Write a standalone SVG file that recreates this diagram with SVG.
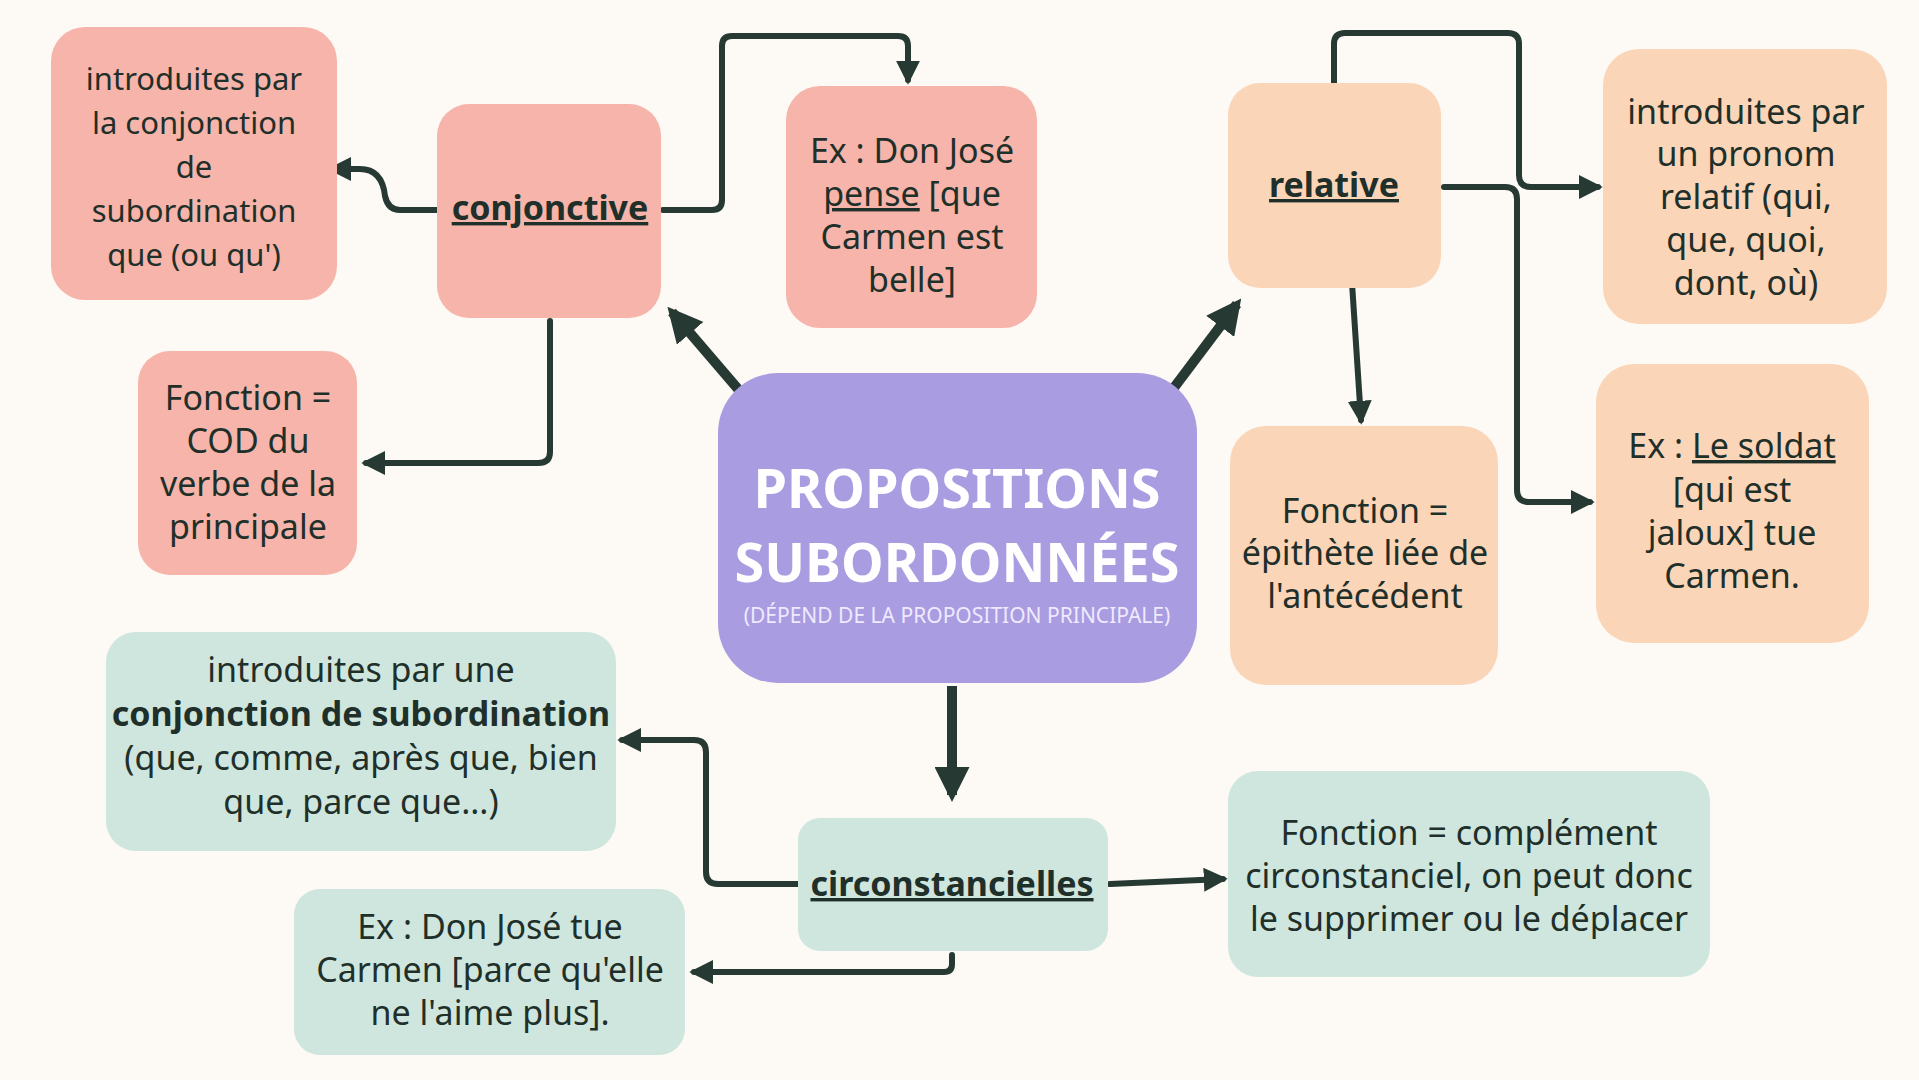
<svg xmlns="http://www.w3.org/2000/svg" width="1919" height="1080" viewBox="0 0 1919 1080">
<style>
.t{font-family:"Noto Sans","DejaVu Sans",sans-serif;font-size:34px;fill:#1f2f29;text-anchor:middle}
.s{font-size:31px}
.b{font-weight:bold}
.u{text-decoration:underline}
.c{fill:none;stroke:#263a33;stroke-width:6;stroke-linecap:round;stroke-linejoin:round}
.k{fill:none;stroke:#263a33;stroke-width:10}
.pk{fill:#f6b4aa}.pe{fill:#fbd5b8}.mi{fill:#cfe6de}
</style>
<defs>
<marker id="a" viewBox="0 0 10 10" refX="8" refY="5" markerWidth="4" markerHeight="4" orient="auto"><path d="M0,0 L10,5 L0,10 z" fill="#263a33"/></marker>
<marker id="A" viewBox="0 0 10 10" refX="8" refY="5" markerWidth="3.5" markerHeight="3.5" orient="auto"><path d="M0,0 L10,5 L0,10 z" fill="#263a33"/></marker>
</defs>
<rect width="1919" height="1080" fill="#fdf9f5"/>
<g id="connectors">
<path class="c" marker-end="url(#a)" d="M437,210 H400 Q388,210 385,196 Q382,169 360,169 H332"/>
<path class="c" marker-end="url(#a)" d="M663,210 H712 Q722,210 722,200 V46 Q722,36 732,36 H898 Q908,36 908,46 V80"/>
<path class="c" marker-end="url(#a)" d="M550,321 V452 Q550,463 538,463 H366"/>
<path class="k" marker-end="url(#A)" d="M738,389 L672,312"/>
<path class="k" marker-end="url(#A)" d="M1173,389 L1237,304"/>
<path class="k" marker-end="url(#A)" d="M952,686 V795"/>
<path class="c" marker-end="url(#a)" d="M1334,83 V44 Q1334,33 1345,33 H1508 Q1519,33 1519,44 V175 Q1519,187 1531,187 H1598"/>
<path class="c" marker-end="url(#a)" d="M1444,187 H1505 Q1517,187 1517,199 V490 Q1517,502 1529,502 H1590"/>
<path class="c" marker-end="url(#a)" d="M1352,283 L1361,420"/>
<path class="c" marker-end="url(#a)" d="M798,884 H718 Q706,884 706,872 V752 Q706,740 694,740 H622"/>
<path class="c" marker-end="url(#a)" d="M952,955 V964 Q952,972 944,972 H694"/>
<path class="c" marker-end="url(#a)" d="M1110,884 L1223,879"/>
</g>
<g id="intro-conj"><rect class="pk" x="51" y="27" width="286" height="273" rx="34"/>
<text class="t s"><tspan x="194" y="90">introduites par</tspan><tspan x="194" y="134">la conjonction</tspan><tspan x="194" y="178">de</tspan><tspan x="194" y="222">subordination</tspan><tspan x="194" y="266">que (ou qu')</tspan></text></g>
<g id="conjonctive"><rect class="pk" x="437" y="104" width="224" height="214" rx="32"/>
<text class="t b" x="550" y="220"><tspan class="u">conjonctive</tspan></text></g>
<g id="ex-conj"><rect class="pk" x="786" y="86" width="251" height="242" rx="34"/>
<text class="t"><tspan x="912" y="163">Ex : Don José</tspan><tspan x="912" y="206"><tspan class="u">pense</tspan> [que</tspan><tspan x="912" y="249">Carmen est</tspan><tspan x="912" y="292">belle]</tspan></text></g>
<g id="fonction-cod"><rect class="pk" x="138" y="351" width="219" height="224" rx="32"/>
<text class="t"><tspan x="248" y="410">Fonction =</tspan><tspan x="248" y="453">COD du</tspan><tspan x="248" y="496">verbe de la</tspan><tspan x="248" y="539">principale</tspan></text></g>
<g id="central"><rect x="718" y="373" width="479" height="310" rx="60" fill="#a99ce0"/>
<text class="t b" x="957" y="508" style="font-size:54px;fill:#fff">PROPOSITIONS</text>
<text class="t b" x="957" y="582" style="font-size:54px;fill:#fff">SUBORDONNÉES</text>
<text class="t" x="957" y="623" style="font-size:21px;fill:#eeeaff">(DÉPEND DE LA PROPOSITION PRINCIPALE)</text></g>
<g id="relative"><rect class="pe" x="1228" y="83" width="213" height="205" rx="32"/>
<text class="t b" x="1334" y="197"><tspan class="u">relative</tspan></text></g>
<g id="intro-rel"><rect class="pe" x="1603" y="49" width="284" height="275" rx="36"/>
<text class="t"><tspan x="1746" y="124">introduites par</tspan><tspan x="1746" y="166">un pronom</tspan><tspan x="1746" y="209">relatif (qui,</tspan><tspan x="1746" y="252">que, quoi,</tspan><tspan x="1746" y="295">dont, où)</tspan></text></g>
<g id="epithete"><rect class="pe" x="1230" y="426" width="268" height="259" rx="36"/>
<text class="t"><tspan x="1365" y="523">Fonction =</tspan><tspan x="1365" y="565">épithète liée de</tspan><tspan x="1365" y="608">l'antécédent</tspan></text></g>
<g id="ex-rel"><rect class="pe" x="1596" y="364" width="273" height="279" rx="38"/>
<text class="t"><tspan x="1732" y="458">Ex : <tspan class="u">Le soldat</tspan></tspan><tspan x="1732" y="502">[qui est</tspan><tspan x="1732" y="545">jaloux] tue</tspan><tspan x="1732" y="588">Carmen.</tspan></text></g>
<g id="intro-circ"><rect class="mi" x="106" y="632" width="510" height="219" rx="30"/>
<text class="t"><tspan x="361" y="682">introduites par une</tspan><tspan x="361" y="726" class="b">conjonction de subordination</tspan><tspan x="361" y="770">(que, comme, après que, bien</tspan><tspan x="361" y="814">que, parce que...)</tspan></text></g>
<g id="circonstancielles"><rect class="mi" x="798" y="818" width="310" height="133" rx="22"/>
<text class="t b" x="952" y="896"><tspan class="u">circonstancielles</tspan></text></g>
<g id="fonction-cc"><rect class="mi" x="1228" y="771" width="482" height="206" rx="30"/>
<text class="t"><tspan x="1469" y="845">Fonction = complément</tspan><tspan x="1469" y="888">circonstanciel, on peut donc</tspan><tspan x="1469" y="931">le supprimer ou le déplacer</tspan></text></g>
<g id="ex-circ"><rect class="mi" x="294" y="889" width="391" height="166" rx="26"/>
<text class="t"><tspan x="490" y="939">Ex : Don José tue</tspan><tspan x="490" y="982">Carmen [parce qu'elle</tspan><tspan x="490" y="1025">ne l'aime plus].</tspan></text></g>
</svg>
